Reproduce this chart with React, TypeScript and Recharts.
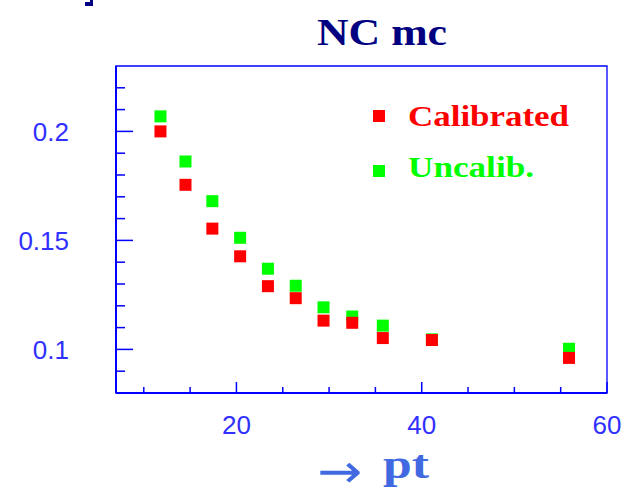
import { ReferenceArea, Scatter, ScatterChart, XAxis, YAxis } from 'recharts'

// pt bin centres
const ptBins = [11.8, 14.5, 17.4, 20.4, 23.4, 26.4, 29.4, 32.5, 35.8, 41.1, 55.9]
const calibrated = [0.2, 0.1755, 0.1554, 0.1427, 0.129, 0.1235, 0.1132, 0.1122, 0.1052, 0.1043, 0.0961]
const uncalibrated = [0.2069, 0.1862, 0.168, 0.1512, 0.137, 0.1292, 0.1193, 0.1151, 0.1109, 0.1046, 0.1003]

const xTicks = [10, 15, 20, 25, 30, 35, 40, 45, 50, 55, 60]
const xMajor = [20, 40, 60]
const yTicks = [0.09, 0.1, 0.11, 0.12, 0.13, 0.14, 0.15, 0.16, 0.17, 0.18, 0.19, 0.2, 0.21, 0.22]
const yMajor = [0.1, 0.15, 0.2]

const AXIS = '#0000ff'
const LABEL = '#3030ff'
const RED = '#ff0000'
const GREEN = '#00ff00'
const NAVY = '#000080'
const ROYAL = '#4169e1'

const calibData = ptBins.map((pt, i) => ({ pt, value: calibrated[i] }))
const uncalibData = ptBins.map((pt, i) => ({ pt, value: uncalibrated[i] }))

const isMajor = (list: number[], v: number) => list.some((m) => Math.abs(m - v) < 1e-9)

// ticks point into the frame (PAW style); labels sit outside
function XTick({ x, y, payload }: any) {
  const major = isMajor(xMajor, payload.value)
  return (
    <g>
      <line x1={x} x2={x} y1={y} y2={y - (major ? 11 : 6)} stroke={AXIS} strokeWidth={1.5} />
      {major ? (
        <text x={x} y={y + 41} textAnchor="middle" fontFamily="Liberation Sans" fontSize={26} fill={LABEL}>
          {payload.value}
        </text>
      ) : null}
    </g>
  )
}

function YTick({ x, y, payload }: any) {
  const major = isMajor(yMajor, payload.value)
  return (
    <g>
      <line x1={x} x2={x + (major ? 17 : 9)} y1={y} y2={y} stroke={AXIS} strokeWidth={1.5} />
      {major ? (
        <text x={x - 47} y={y + 10} textAnchor="end" fontFamily="Liberation Sans" fontSize={26} fill={LABEL}>
          {String(payload.value)}
        </text>
      ) : null}
    </g>
  )
}

const square = (fill: string) => (props: any) => (
  <rect x={props.cx - 6} y={props.cy - 6} width={12} height={12} fill={fill} />
)

export default function App() {
  return (
    <div style={{ position: 'absolute', left: 0, top: 0, width: 629, height: 498, background: '#fff' }}>
      <ScatterChart width={629} height={498} margin={{ top: 66, right: 22, bottom: 0, left: 0 }}>
        <XAxis
          type="number"
          dataKey="pt"
          domain={[7, 60]}
          ticks={xTicks}
          interval={0}
          height={105}
          tickSize={0}
          tickMargin={0}
          tickLine={false}
          tick={<XTick />}
          axisLine={{ stroke: AXIS, strokeWidth: 2 }}
          allowDataOverflow
        />
        <YAxis
          type="number"
          dataKey="value"
          domain={[0.08, 0.23]}
          ticks={yTicks}
          interval={0}
          width={116}
          tickSize={0}
          tickMargin={0}
          tickLine={false}
          tick={<YTick />}
          axisLine={{ stroke: AXIS, strokeWidth: 2 }}
          allowDataOverflow
        />
        <ReferenceArea x1={7} x2={60} y1={0.08} y2={0.23} fill="none" stroke={AXIS} strokeWidth={1.3} />
        <Scatter data={uncalibData} shape={square(GREEN)} isAnimationActive={false} />
        <Scatter data={calibData} shape={square(RED)} isAnimationActive={false} />
      </ScatterChart>

      <svg width={629} height={498} style={{ position: 'absolute', left: 0, top: 0, pointerEvents: 'none' }}>
        {/* clipped remnant of a glyph at the top edge */}
        <rect x={90} y={0} width={3} height={6} fill={NAVY} />
        <rect x={85} y={2} width={8} height={4} fill={NAVY} />

        <text x={317} y={45} fontFamily="Liberation Serif" fontWeight="bold" fontSize={38} fill={NAVY}
          textLength={130} lengthAdjust="spacingAndGlyphs">
          NC mc
        </text>

        <rect x={373} y={110} width={12} height={12} fill={RED} />
        <text x={408} y={126} fontFamily="Liberation Serif" fontWeight="bold" fontSize={30} fill={RED}
          textLength={161} lengthAdjust="spacingAndGlyphs">
          Calibrated
        </text>
        <rect x={373} y={165} width={12} height={12} fill={GREEN} />
        <text x={408} y={177} fontFamily="Liberation Serif" fontWeight="bold" fontSize={30} fill={GREEN}
          textLength={126} lengthAdjust="spacingAndGlyphs">
          Uncalib.
        </text>

        {/* arrow widened with a transform so its line box stays inside the page */}
        <text x={0} y={0} transform="translate(317,487) scale(1.28,1.1)" fontFamily="DejaVu Sans" fontSize={42} fill={ROYAL}>
          →
        </text>
        <text x={383} y={478} fontFamily="Liberation Serif" fontWeight="bold" fontSize={40} fill={ROYAL}
          textLength={46} lengthAdjust="spacingAndGlyphs">
          pt
        </text>
      </svg>
    </div>
  )
}
